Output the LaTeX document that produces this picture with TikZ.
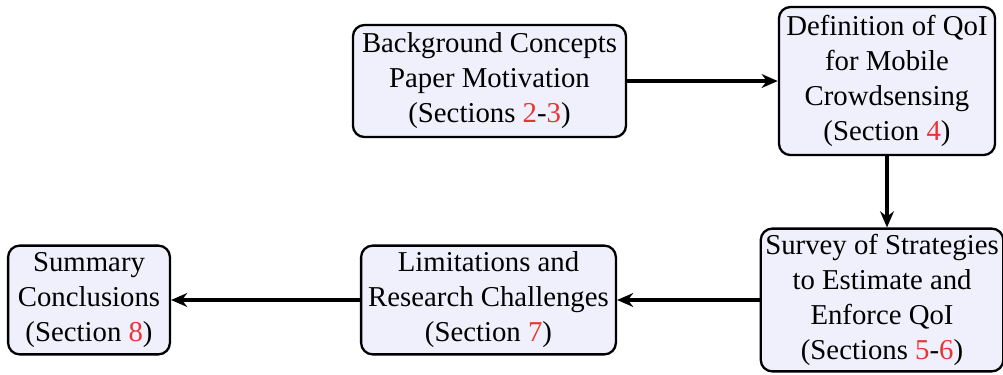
\documentclass[tikz,border=0pt]{standalone}
\usepackage{fontspec}
\setmainfont{Liberation Serif}
\usetikzlibrary{arrows.meta}
\definecolor{boxfill}{RGB}{240,240,252}
\definecolor{secred}{RGB}{232,52,52}
\newcommand{\sref}[1]{\textcolor{secred}{#1}}
\tikzset{
    stage/.style={draw, line width=1pt, rounded corners=5pt, fill=boxfill,
        align=center, inner sep=2pt, font=\fontsize{12.5}{15.2}\selectfont},
    flow/.style={-{Stealth[length=7pt,width=6pt]}, line width=1.4pt}
}
\begin{document}
\begin{tikzpicture}
                \useasboundingbox (0,0) rectangle (15.313,-5.710);
                \node[stage, minimum width=4.17cm, minimum height=1.71cm] (bg) at (7.473,-1.237)
                    {Background Concepts\\Paper Motivation\\(Sections \sref{2}-\sref{3})};
                \node[stage, minimum width=3.30cm, minimum height=2.26cm] (def) at (13.542,-1.237)
                    {Definition of QoI\\for Mobile\\Crowdsensing\\(Section \sref{4})};
                \node[stage, minimum width=3.63cm, minimum height=2.18cm] (survey) at (13.466,-4.580)
                    {Survey of Strategies\\to Estimate and\\Enforce QoI\\(Sections \sref{5}-\sref{6})};
                \node[stage, minimum width=3.89cm, minimum height=1.66cm] (lim) at (7.458,-4.580)
                    {Limitations and\\Research Challenges\\(Section \sref{7})};
                \node[stage, minimum width=2.47cm, minimum height=1.66cm] (sum) at (1.359,-4.580)
                    {Summary\\Conclusions\\(Section \sref{8})};

                \draw[flow] (bg) -- (def);
                \draw[flow] (def.south) -- (def.south |- survey.north);
                \draw[flow] (survey) -- (lim);
                \draw[flow] (lim) -- (sum);
\end{tikzpicture}
\end{document}
